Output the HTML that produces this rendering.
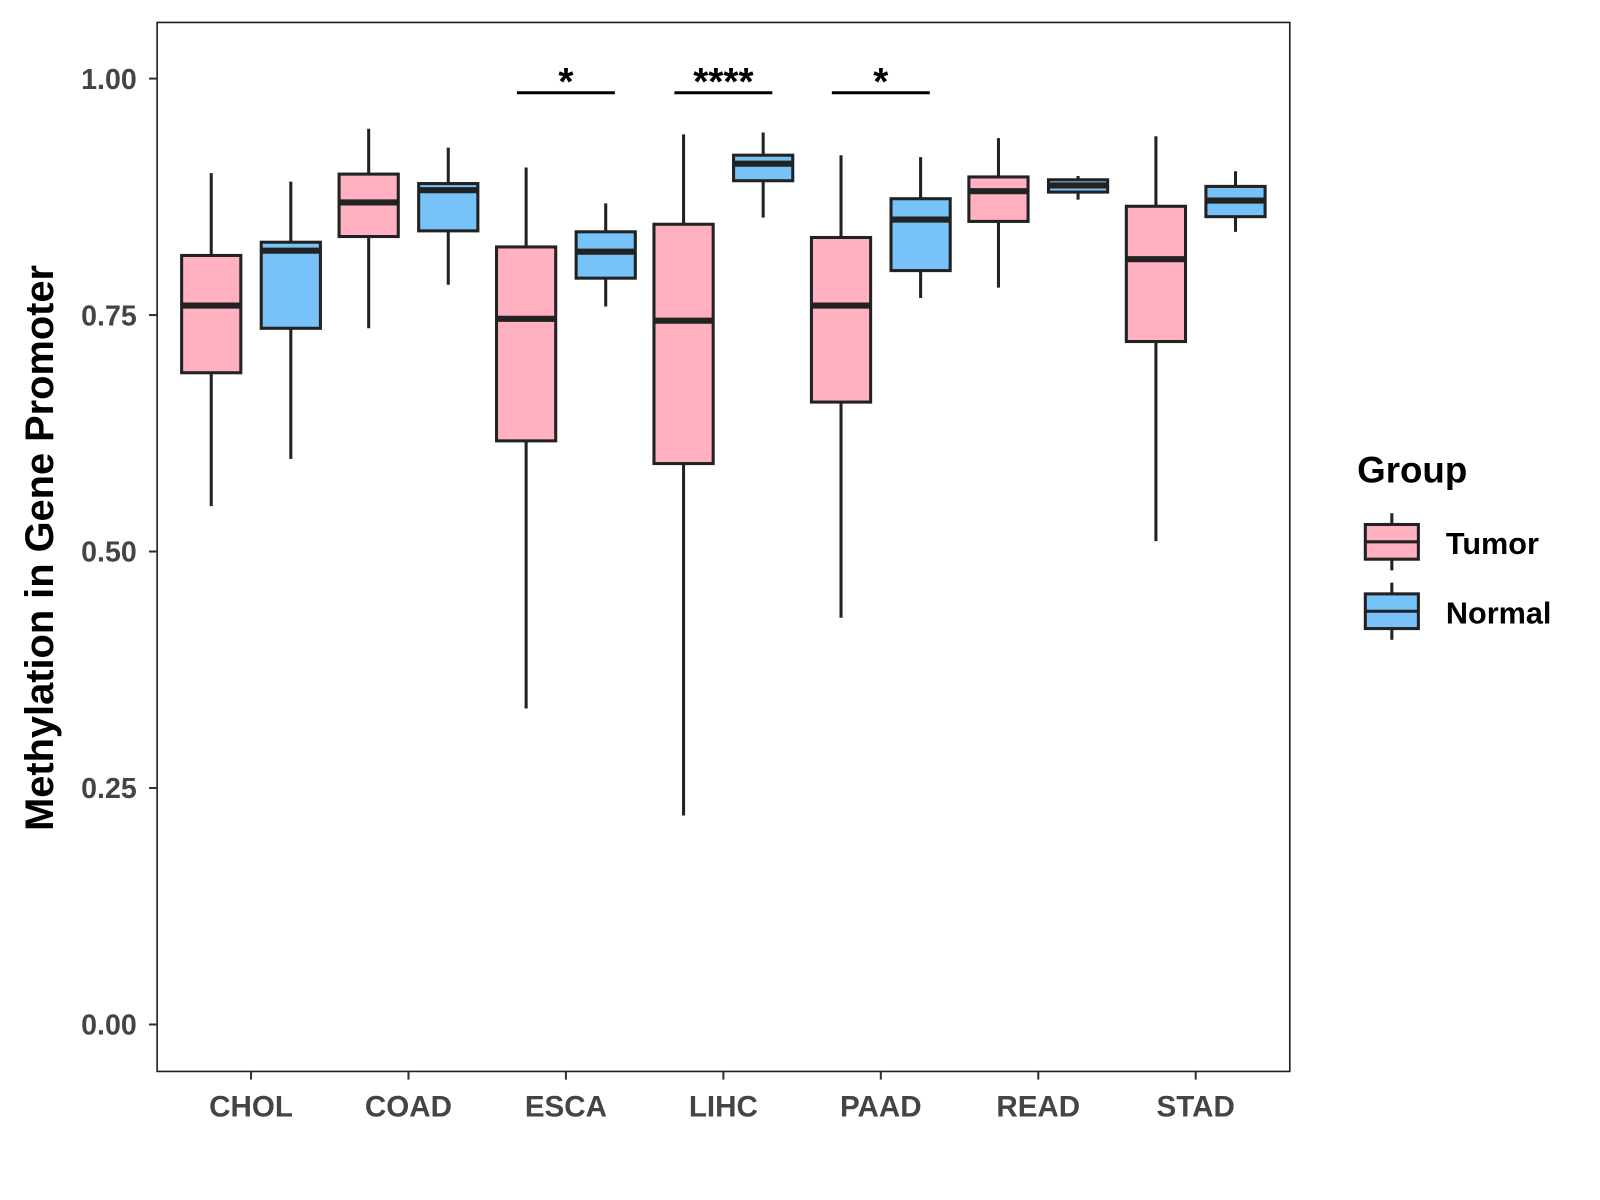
<!DOCTYPE html>
<html><head><meta charset="utf-8"><style>
html,body{margin:0;padding:0;background:#fff;}
svg{display:block;font-family:"Liberation Sans",Arial,sans-serif;}
</style></head><body>
<svg id="chart" width="1600" height="1200" viewBox="0 0 1568 1176" preserveAspectRatio="none" xmlns="http://www.w3.org/2000/svg">
<rect x="0" y="0" width="1568" height="1176" fill="#fff"/>
<rect x="154" y="22" width="1110" height="1028" fill="none" stroke="#222" stroke-width="1.6"/>
<text transform="translate(52,537) rotate(-90)" text-anchor="middle" font-size="39" font-weight="bold" fill="#000">Methylation in Gene Promoter</text>
<g>
<text x="1330" y="473" font-size="36" font-weight="bold" fill="#000">Group</text>
<g>
<line x1="1364" y1="503" x2="1364" y2="559" stroke="#222" stroke-width="3"/>
<rect x="1338" y="514" width="52" height="34" fill="#FFB1C1" stroke="#222" stroke-width="3"/>
<line x1="1338" y1="531" x2="1390" y2="531" stroke="#222" stroke-width="3"/>
<text x="1417" y="543" font-size="30" font-weight="bold" fill="#000">Tumor</text>
</g>
<g>
<line x1="1364" y1="571" x2="1364" y2="627" stroke="#222" stroke-width="3"/>
<rect x="1338" y="582" width="52" height="34" fill="#77C2F8" stroke="#222" stroke-width="3"/>
<line x1="1338" y1="599" x2="1390" y2="599" stroke="#222" stroke-width="3"/>
<text x="1417" y="611" font-size="30" font-weight="bold" fill="#000">Normal</text>
</g>
</g>
<g id="marks"></g>
</svg>
<script>
const categories = ["CHOL","COAD","ESCA","LIHC","PAAD","READ","STAD"];
const tumorStats = [
 [0.548,0.689,0.760,0.813,0.900],
 [0.736,0.833,0.869,0.899,0.947],
 [0.334,0.617,0.746,0.822,0.906],
 [0.221,0.593,0.744,0.846,0.941],
 [0.430,0.658,0.760,0.832,0.919],
 [0.779,0.849,0.881,0.896,0.937],
 [0.511,0.722,0.809,0.865,0.939]
];
const normalStats = [
 [0.598,0.736,0.818,0.827,0.891],
 [0.782,0.839,0.882,0.889,0.927],
 [0.759,0.789,0.817,0.838,0.868],
 [0.853,0.892,0.910,0.919,0.943],
 [0.768,0.797,0.851,0.873,0.917],
 [0.872,0.880,0.887,0.893,0.897],
 [0.838,0.854,0.871,0.886,0.902]
];
const yTicks = [0,0.25,0.5,0.75,1.0];
const yTickLabels = ["0.00","0.25","0.50","0.75","1.00"];
const sigCategories = ["ESCA","LIHC","PAAD"];
const sigLabels = ["*","****","*"];
const sigLevel = 0.985;

const NS="http://www.w3.org/2000/svg";
const g=document.getElementById('marks');
const yScale=v=>1004-927*v;
const xScale=i=>246+154.3*i;
function mk(tag,attrs,parent){const e=document.createElementNS(NS,tag);for(const k in attrs)e.setAttribute(k,attrs[k]);(parent||g).appendChild(e);return e;}

yTicks.forEach((t,i)=>{
 const y=yScale(t);
 const tk=mk('line',{x1:146,x2:154,y1:y,y2:y,stroke:'#333','stroke-width':2});
 
 
 const tx=mk('text',{x:134,y:y+10,'text-anchor':'end','font-size':28,'font-weight':'bold',fill:'#444'});
 tx.textContent=yTickLabels[i];
 
 
});
categories.forEach((c,i)=>{
 const x=xScale(i);
 const tk=mk('line',{x1:x,x2:x,y1:1050,y2:1058,stroke:'#333','stroke-width':2});
 
 
 const tx=mk('text',{x:x,y:1094,'text-anchor':'middle','font-size':29,'font-weight':'bold',fill:'#444'});
 tx.textContent=c;
 
 
});
function box(cx,s,fill,name){
 const grp=mk('g',{});
 
 
 mk('line',{x1:cx,x2:cx,y1:yScale(s[0]),y2:yScale(s[4]),stroke:'#222','stroke-width':3},grp);
 mk('rect',{x:cx-29,y:yScale(s[3]),width:58,height:yScale(s[1])-yScale(s[3]),fill:fill,stroke:'#222','stroke-width':3},grp);
 mk('line',{x1:cx-29,x2:cx+29,y1:yScale(s[2]),y2:yScale(s[2]),stroke:'#222','stroke-width':6},grp);
}
categories.forEach((c,i)=>{
 box(xScale(i)-39,tumorStats[i],'#FFB1C1','box-tumor-'+c.toLowerCase());
 box(xScale(i)+39,normalStats[i],'#77C2F8','box-normal-'+c.toLowerCase());
});
sigCategories.forEach((c,k)=>{
 const i=categories.indexOf(c);const x=xScale(i);const y=yScale(sigLevel);
 const ln=mk('line',{x1:x-48,x2:x+48,y1:y,y2:y,stroke:'#000','stroke-width':3});
 
 
 const t=mk('text',{x:x,y:y+2,'text-anchor':'middle','font-size':38,'font-weight':'bold',fill:'#000'});
 t.textContent=sigLabels[k];
 
 
});
</script>
</body></html>
